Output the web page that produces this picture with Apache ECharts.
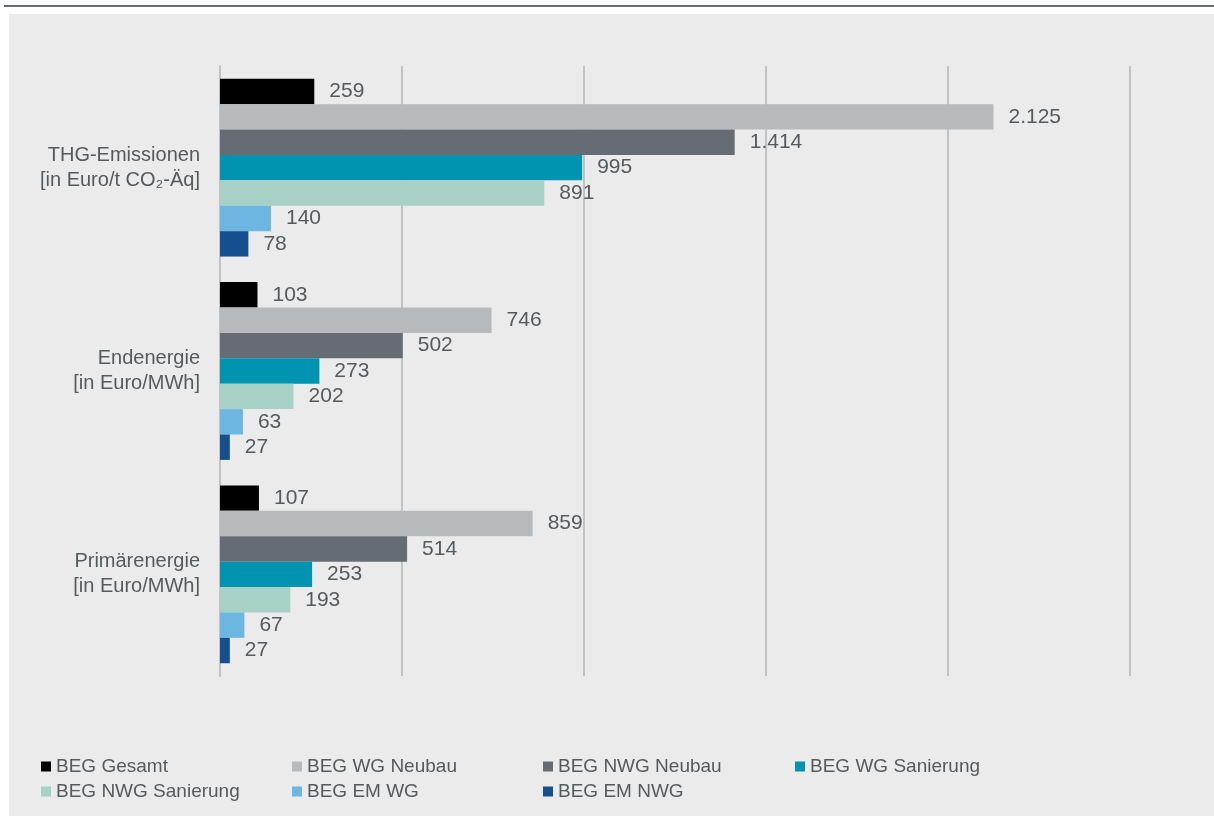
<!DOCTYPE html>
<html>
<head>
<meta charset="utf-8">
<script src="https://cdn.jsdelivr.net/npm/echarts@6/dist/echarts.min.js"></script>
<style>
html,body{margin:0;padding:0;background:#ffffff;}
#c{width:1214px;height:816px;}
</style>
</head>
<body>
<div id="c"></div>
<script>
const categories = ['THG-Emissionen\n[in Euro/t CO₂-Äq]', 'Endenergie\n[in Euro/MWh]', 'Primärenergie\n[in Euro/MWh]'];
const seriesNames = ['BEG Gesamt', 'BEG WG Neubau', 'BEG NWG Neubau', 'BEG WG Sanierung', 'BEG NWG Sanierung', 'BEG EM WG', 'BEG EM NWG'];
const begGesamt = [259, 103, 107];
const begWgNeubau = [2125, 746, 859];
const begNwgNeubau = [1414, 502, 514];
const begWgSanierung = [995, 273, 253];
const begNwgSanierung = [891, 202, 193];
const begEmWg = [140, 63, 67];
const begEmNwg = [78, 27, 27];
const seriesValues = [begGesamt, begWgNeubau, begNwgNeubau, begWgSanierung, begNwgSanierung, begEmWg, begEmNwg];
const colors = ['#000000', '#b6babd', '#656c74', '#0094b1', '#a7d1c7', '#6db6e1', '#14508f'];

const FONT = '"Liberation Sans", Arial, sans-serif';
function fmt(v){ return String(v).replace(/\B(?=(\d{3})+(?!\d))/g, '.'); }

const legendCols = [41, 292, 543, 795];
const legendRows = [757, 782];
const legends = seriesNames.map((n, i) => ({
  left: legendCols[i % 4], top: legendRows[Math.floor(i / 4)],
  padding:0, itemWidth:10, itemHeight:10, itemGap:10, icon:'rect',
  data:[n],
  textStyle:{color:'#555a5e', fontSize:19, fontFamily:FONT}
}));

const chart = echarts.init(document.getElementById('c'), null, {renderer:'canvas'});
chart.setOption({
  backgroundColor: '#ffffff',
  animation: false,
  graphic: [
    {type:'rect', shape:{x:9, y:14, width:1205, height:802}, style:{fill:'#ebebeb'}, z:-10, silent:true},
    {type:'rect', shape:{x:4, y:5, width:1210, height:2}, style:{fill:'#646b73'}, z:-10, silent:true}
  ],
  grid: {left:220, right:84, top:66, bottom:140, containLabel:false},
  xAxis: {
    type:'value', min:0, max:2500, interval:500,
    axisLabel:{show:false}, axisLine:{show:false}, axisTick:{show:false},
    splitLine:{show:true, lineStyle:{color:'#bfc3c6', width:2}}
  },
  yAxis: {
    type:'category', data:categories, inverse:true,
    axisTick:{show:false},
    axisLine:{show:true, lineStyle:{color:'#bfc3c6', width:2}},
    axisLabel:{color:'#555a5e', fontSize:20, fontFamily:FONT, lineHeight:25, margin:20, align:'right'}
  },
  legend: legends,
  series: seriesNames.map((n,i)=>({
    name:n, type:'bar', data:seriesValues[i],
    barWidth:25.4, barGap:'0%',
    itemStyle:{color:colors[i]},
    label:{show:true, position:'right', distance:15, color:'#555a5e', fontSize:21, fontFamily:FONT,
      formatter:(p)=>fmt(p.value)}
  }))
});
</script>
</body>
</html>
